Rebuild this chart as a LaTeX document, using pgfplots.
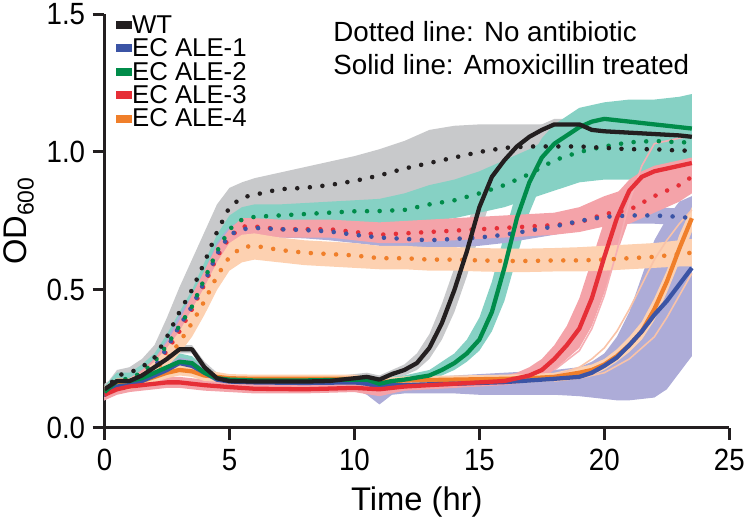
\documentclass[border=0pt]{standalone}
\usepackage{fontspec}
\setmainfont{Liberation Sans}
\newfontfamily\tickfont[FakeStretch=0.9]{Liberation Sans}
\usepackage{pgfplots}
\pgfplotsset{compat=1.18}
\usepackage{pgfplotstable}
\usepgfplotslibrary{fillbetween}

\definecolor{cblack}{HTML}{231F20}
\definecolor{cblue}{HTML}{3B54A5}
\definecolor{cgreen}{HTML}{008C4A}
\definecolor{cred}{HTML}{E62F37}
\definecolor{corange}{HTML}{F07F2A}
\definecolor{bgrey}{HTML}{C8C9CB}
\definecolor{bteal}{HTML}{86D1C4}
\definecolor{bpink}{HTML}{F4A3A9}
\definecolor{blav}{HTML}{ADACD8}
\definecolor{bpeach}{HTML}{FDD1B1}
\definecolor{rpeach}{HTML}{F9C3A8}
\definecolor{rpink}{HTML}{F6AFB4}

% t mean lo hi
\pgfplotstableread{
t m lo hi
0 0.13 0.11 0.15
0.5 0.19 0.16 0.21
1 0.20 0.17 0.22
1.5 0.22 0.19 0.25
2 0.255 0.21 0.30
2.5 0.33 0.26 0.40
3 0.42 0.33 0.51
3.5 0.50 0.40 0.61
4 0.60 0.49 0.71
4.5 0.71 0.60 0.81
5 0.80 0.70 0.87
5.5 0.835 0.76 0.89
6 0.845 0.77 0.905
7 0.865 0.78 0.925
8 0.87 0.78 0.945
9 0.88 0.78 0.965
10 0.895 0.79 0.985
11 0.915 0.80 1.01
12 0.94 0.81 1.04
13 0.96 0.82 1.08
14 0.98 0.85 1.095
15 1.00 0.88 1.10
16 1.015 0.92 1.10
17 1.02 0.94 1.10
18 1.02 0.95 1.10
19 1.02 0.96 1.09
20 1.015 0.96 1.08
21 1.01 0.96 1.07
22 1.01 0.96 1.06
23 1.005 0.96 1.06
23.5 1.005 0.96 1.06
}\wtd

\pgfplotstableread{
t m lo hi
0 0.14 0.12 0.16
0.5 0.17 0.15 0.19
1 0.17 0.15 0.19
1.5 0.19 0.17 0.21
2 0.22 0.20 0.24
2.5 0.25 0.23 0.27
3 0.285 0.27 0.30
3.5 0.285 0.27 0.30
4 0.22 0.20 0.24
4.5 0.18 0.17 0.20
5 0.17 0.16 0.19
6 0.168 0.155 0.185
7 0.168 0.155 0.185
8 0.168 0.155 0.185
9 0.17 0.155 0.185
10 0.18 0.165 0.195
10.5 0.185 0.17 0.20
11 0.175 0.16 0.19
11.5 0.195 0.18 0.21
12 0.21 0.19 0.23
12.5 0.235 0.21 0.27
13 0.29 0.25 0.34
13.5 0.38 0.32 0.45
14 0.50 0.42 0.58
14.5 0.64 0.55 0.73
15 0.80 0.70 0.87
15.5 0.91 0.84 0.96
16 0.97 0.93 1.01
16.5 1.02 0.99 1.05
17 1.055 1.03 1.08
17.5 1.08 1.06 1.10
18 1.10 1.08 1.12
19 1.10 1.08 1.12
19.5 1.08 1.06 1.10
20 1.075 1.055 1.095
21 1.07 1.05 1.09
22 1.065 1.045 1.085
23 1.06 1.04 1.08
23.5 1.055 1.035 1.075
}\wts

\pgfplotstableread{
t m lo hi
0 0.13 0.11 0.15
0.5 0.17 0.15 0.20
1 0.18 0.16 0.20
1.5 0.20 0.18 0.23
2 0.24 0.21 0.27
2.5 0.30 0.26 0.34
3 0.37 0.32 0.42
3.5 0.44 0.39 0.50
4 0.54 0.48 0.60
4.5 0.64 0.58 0.70
5 0.72 0.66 0.77
5.5 0.755 0.71 0.80
6 0.765 0.72 0.81
7 0.77 0.73 0.81
8 0.775 0.735 0.815
9 0.78 0.74 0.82
10 0.785 0.74 0.825
11 0.786 0.74 0.83
12 0.79 0.745 0.85
13 0.81 0.75 0.88
14 0.825 0.76 0.90
15 0.85 0.78 0.93
16 0.88 0.80 0.97
17 0.92 0.83 1.01
18 0.97 0.86 1.06
19 1.00 0.89 1.10
20 1.02 0.90 1.13
21 1.035 0.90 1.15
22 1.04 0.90 1.16
23 1.035 0.90 1.17
23.5 1.035 0.90 1.17
}\gd

\pgfplotstableread{
t m lo hi
0 0.13 0.11 0.15
0.5 0.17 0.15 0.20
1 0.17 0.15 0.19
1.5 0.18 0.16 0.20
2 0.20 0.18 0.22
2.5 0.22 0.20 0.24
3 0.24 0.22 0.27
3.5 0.235 0.21 0.26
4 0.20 0.18 0.22
4.5 0.18 0.165 0.195
5 0.175 0.16 0.19
6 0.172 0.16 0.185
8 0.172 0.16 0.185
10 0.175 0.16 0.19
10.5 0.175 0.16 0.19
11 0.16 0.14 0.18
11.5 0.17 0.155 0.185
12 0.175 0.16 0.19
13 0.19 0.175 0.21
13.5 0.21 0.19 0.24
14 0.235 0.21 0.27
14.5 0.27 0.24 0.32
15 0.32 0.28 0.40
15.5 0.42 0.35 0.53
16 0.58 0.46 0.70
16.5 0.76 0.62 0.86
17 0.89 0.78 0.97
17.5 0.98 0.89 1.05
18 1.03 0.96 1.10
18.5 1.06 1.00 1.13
19 1.09 1.03 1.16
19.5 1.11 1.05 1.17
20 1.12 1.06 1.18
21 1.11 1.05 1.19
22 1.10 1.04 1.19
23 1.09 1.03 1.20
23.5 1.085 1.02 1.21
}\gs

\pgfplotstableread{
t m lo hi
0 0.12 0.10 0.14
0.5 0.15 0.13 0.17
1 0.16 0.14 0.18
1.5 0.19 0.17 0.21
2 0.22 0.20 0.25
2.5 0.28 0.25 0.31
3 0.35 0.31 0.39
3.5 0.43 0.38 0.48
4 0.52 0.47 0.57
4.5 0.62 0.57 0.66
5 0.69 0.65 0.72
5.5 0.73 0.70 0.76
6 0.73 0.70 0.76
7 0.72 0.69 0.755
8 0.72 0.69 0.755
9 0.72 0.69 0.755
10 0.71 0.68 0.75
11 0.70 0.67 0.745
12 0.705 0.67 0.75
13 0.71 0.675 0.755
14 0.715 0.68 0.76
15 0.72 0.685 0.765
16 0.725 0.69 0.77
17 0.73 0.695 0.775
18 0.735 0.70 0.78
19 0.745 0.71 0.80
20 0.775 0.73 0.84
21 0.79 0.74 0.87
22 0.84 0.78 0.90
23 0.88 0.82 0.94
23.5 0.91 0.85 0.96
}\rd

\pgfplotstableread{
t m lo hi
0 0.12 0.10 0.14
0.5 0.14 0.12 0.16
1 0.15 0.13 0.17
1.5 0.155 0.135 0.175
2 0.16 0.14 0.18
2.5 0.165 0.145 0.185
3 0.165 0.145 0.185
3.5 0.16 0.14 0.18
4 0.155 0.135 0.175
5 0.148 0.13 0.165
6 0.142 0.125 0.16
8 0.14 0.125 0.155
10 0.145 0.13 0.16
11 0.14 0.115 0.155
12 0.15 0.135 0.165
13 0.155 0.14 0.17
14 0.16 0.145 0.175
15 0.165 0.15 0.18
16 0.17 0.155 0.19
16.5 0.18 0.16 0.20
17 0.19 0.17 0.22
17.5 0.21 0.18 0.25
18 0.25 0.21 0.30
18.5 0.30 0.25 0.37
19 0.36 0.29 0.47
19.5 0.47 0.37 0.61
20 0.62 0.49 0.75
20.5 0.76 0.63 0.85
21 0.86 0.76 0.90
21.5 0.91 0.85 0.93
22 0.93 0.89 0.95
23 0.95 0.92 0.97
23.5 0.96 0.93 0.98
}\rs

\pgfplotstableread{
t m lo hi
0 0.12 0.10 0.14
0.5 0.15 0.13 0.17
1 0.16 0.14 0.18
1.5 0.19 0.17 0.21
2 0.22 0.20 0.25
2.5 0.29 0.26 0.32
3 0.37 0.33 0.41
3.5 0.44 0.40 0.48
4 0.53 0.49 0.57
4.5 0.63 0.59 0.67
5 0.70 0.67 0.73
5.5 0.72 0.69 0.75
6 0.725 0.695 0.755
7 0.72 0.69 0.75
8 0.717 0.687 0.747
9 0.712 0.68 0.745
10 0.70 0.67 0.735
11 0.69 0.66 0.725
12 0.685 0.655 0.72
13 0.68 0.65 0.715
14 0.685 0.655 0.72
15 0.69 0.66 0.725
16 0.70 0.67 0.735
17 0.715 0.685 0.75
18 0.73 0.70 0.765
19 0.75 0.72 0.785
20 0.765 0.735 0.80
21 0.77 0.74 0.80
22 0.77 0.74 0.80
23 0.765 0.735 0.795
23.5 0.76 0.73 0.79
}\bd

\pgfplotstableread{
t m lo hi
0 0.12 0.10 0.14
0.5 0.15 0.13 0.17
1 0.155 0.135 0.175
1.5 0.17 0.15 0.19
2 0.19 0.17 0.21
2.5 0.21 0.19 0.23
3 0.235 0.215 0.255
3.5 0.225 0.205 0.245
4 0.20 0.18 0.22
4.5 0.175 0.155 0.195
5 0.168 0.15 0.185
6 0.165 0.145 0.185
8 0.163 0.143 0.183
10 0.165 0.14 0.185
10.5 0.16 0.12 0.18
11 0.148 0.085 0.17
11.5 0.155 0.12 0.175
12 0.155 0.125 0.18
13 0.158 0.125 0.185
14 0.16 0.125 0.19
15 0.163 0.12 0.195
16 0.166 0.12 0.20
17 0.172 0.12 0.205
18 0.178 0.12 0.21
19 0.185 0.115 0.22
19.5 0.20 0.11 0.24
20 0.225 0.105 0.27
20.5 0.255 0.10 0.33
21 0.30 0.10 0.42
21.5 0.35 0.105 0.55
22 0.41 0.11 0.68
22.5 0.46 0.14 0.76
23 0.52 0.20 0.82
23.5 0.58 0.26 0.84
}\bs

\pgfplotstableread{
t m lo hi
0 0.13 0.11 0.15
0.5 0.16 0.14 0.18
1 0.16 0.14 0.18
1.5 0.18 0.16 0.20
2 0.21 0.19 0.24
2.5 0.25 0.22 0.29
3 0.31 0.27 0.35
3.5 0.38 0.33 0.43
4 0.46 0.41 0.51
4.5 0.55 0.50 0.60
5 0.62 0.57 0.67
5.5 0.655 0.60 0.70
6 0.66 0.61 0.705
7 0.645 0.60 0.69
8 0.635 0.59 0.68
9 0.63 0.585 0.675
10 0.625 0.58 0.67
11 0.615 0.575 0.66
12 0.615 0.575 0.66
13 0.61 0.57 0.655
14 0.61 0.57 0.655
15 0.607 0.567 0.652
16 0.605 0.565 0.65
17 0.605 0.565 0.65
18 0.607 0.567 0.652
19 0.607 0.567 0.655
20 0.61 0.57 0.66
21 0.615 0.575 0.665
22 0.62 0.58 0.67
23 0.63 0.585 0.68
23.5 0.635 0.585 0.685
}\od

\pgfplotstableread{
t m lo hi
0 0.13 0.11 0.15
0.5 0.155 0.135 0.175
1 0.16 0.14 0.18
1.5 0.17 0.15 0.19
2 0.185 0.165 0.205
2.5 0.20 0.18 0.22
3 0.21 0.19 0.23
3.5 0.205 0.185 0.225
4 0.19 0.17 0.21
5 0.18 0.165 0.195
6 0.178 0.163 0.193
8 0.178 0.163 0.193
10 0.178 0.163 0.193
11 0.165 0.15 0.18
12 0.172 0.157 0.187
14 0.175 0.16 0.19
16 0.178 0.163 0.193
17 0.18 0.165 0.195
18 0.185 0.17 0.20
19 0.20 0.18 0.22
19.5 0.21 0.19 0.23
20 0.23 0.21 0.25
20.5 0.26 0.24 0.285
21 0.30 0.275 0.33
21.5 0.35 0.32 0.385
22 0.43 0.39 0.47
22.5 0.53 0.49 0.57
23 0.65 0.60 0.70
23.5 0.76 0.71 0.80
}\os

% pale single replicate traces
\pgfplotstableread{
t y
17 0.18
18 0.19
19 0.22
19.5 0.25
20 0.29
20.5 0.35
21 0.43
21.5 0.52
22 0.61
22.5 0.68
23 0.74
23.5 0.79
}\repa
\pgfplotstableread{
t y
18 0.17
19 0.18
20 0.20
21 0.25
22 0.33
22.5 0.40
23 0.48
23.5 0.56
}\repb
\pgfplotstableread{
t y
18 0.21
19 0.28
19.5 0.36
20 0.48
20.5 0.64
21 0.82
21.5 0.95
22 1.03
23 1.05
23.5 1.06
}\repc

\newcommand{\band}[3]{%
  \addplot[draw=none, name path=#1lo, forget plot] table[x=t,y=lo]{#2};
  \addplot[draw=none, name path=#1hi, forget plot] table[x=t,y=hi]{#2};
  \addplot[fill=#3, draw=none, forget plot] fill between[of=#1lo and #1hi];
}

\begin{document}
\begin{tikzpicture}
\begin{axis}[
  scale only axis,
  width=628bp, height=416bp,
  xmin=0, xmax=25, ymin=0, ymax=1.5,
  axis x line=bottom, axis y line=left,
  axis line style={-, line width=3bp, cblack},
  xtick={0,5,10,15,20,25},
  ytick={0,0.5,1,1.5},
  yticklabels={0.0,0.5,1.0,1.5},
  tick align=outside,
  major tick length=12bp,
  tick style={line width=3bp, cblack},
  ticklabel style={font=\tickfont\fontsize{31}{31}\selectfont},
  /pgf/number format/assume math mode=true,
  xticklabel style={yshift=-6bp},
  yticklabel style={xshift=-4bp},
  xlabel={Time (hr)},
  ylabel={OD\textsubscript{600}},
  label style={font=\fontsize{33}{33}\selectfont},
  xlabel style={yshift=-9bp},
  ylabel style={yshift=6bp},
  legend style={at={(rel axis cs:0.018,1.0)}, anchor=north west,
    draw=none, fill=none, inner sep=0pt, outer sep=0pt,
    font=\fontsize{26}{26}\selectfont,
    nodes={text height=18.5bp, text depth=1bp, inner sep=1bp},
    row sep=2bp},
  legend cell align=left,
]
\addlegendimage{legend image code/.code={\fill[cblack] (0bp,-3.5bp) rectangle (15bp,3.5bp);}}
\addlegendentry{WT}
\addlegendimage{legend image code/.code={\fill[cblue] (0bp,-3.5bp) rectangle (15bp,3.5bp);}}
\addlegendentry{EC ALE-1}
\addlegendimage{legend image code/.code={\fill[cgreen] (0bp,-3.5bp) rectangle (15bp,3.5bp);}}
\addlegendentry{EC ALE-2}
\addlegendimage{legend image code/.code={\fill[cred] (0bp,-3.5bp) rectangle (15bp,3.5bp);}}
\addlegendentry{EC ALE-3}
\addlegendimage{legend image code/.code={\fill[corange] (0bp,-3.5bp) rectangle (15bp,3.5bp);}}
\addlegendentry{EC ALE-4}

% bands
\band{a}{\wtd}{bgrey}
\band{b}{\wts}{bgrey}
\band{c}{\gd}{bteal}
\band{d}{\gs}{bteal}
\band{e}{\bs}{blav}
\band{f}{\bd}{blav}
\band{g}{\rd}{bpink}
\band{h}{\rs}{bpink}
\band{i}{\od}{bpeach}
\band{j}{\os}{bpeach}

\pgfplotsset{dotl/.style={line width=4.6bp, line cap=round, dash pattern=on 0bp off 12.7bp, forget plot},
  sol/.style={line width=4.3bp, line join=round, forget plot},
  rep/.style={line width=1.6bp, line join=round, forget plot}}
% thin single-replicate traces
\addplot[rep, rpeach] table[x=t,y=y]{\repa};
\addplot[rep, rpeach] table[x=t,y=y]{\repb};
\addplot[rep, rpink] table[x=t,y=y]{\repc};
% dotted lines (no antibiotic)
\addplot[dotl, corange] table[x=t,y=m]{\od};
\addplot[dotl, cred] table[x=t,y=m]{\rd};
\addplot[dotl, cblue] table[x=t,y=m]{\bd};
\addplot[dotl, cgreen] table[x=t,y=m]{\gd};
\addplot[dotl, cblack] table[x=t,y=m]{\wtd};
% solid lines (amoxicillin)
\addplot[sol, corange] table[x=t,y=m]{\os};
\addplot[sol, cblue] table[x=t,y=m]{\bs};
\addplot[sol, cred] table[x=t,y=m]{\rs};
\addplot[sol, cgreen] table[x=t,y=m]{\gs};
\addplot[sol, cblack] table[x=t,y=m]{\wts};

\node[anchor=north west, align=left, inner sep=0pt,
  font=\fontsize{28}{33}\selectfont] at (rel axis cs:0.366,0.983)
  {Dotted line: No antibiotic\\Solid line: Amoxicillin treated};
\end{axis}
\end{tikzpicture}
\end{document}
